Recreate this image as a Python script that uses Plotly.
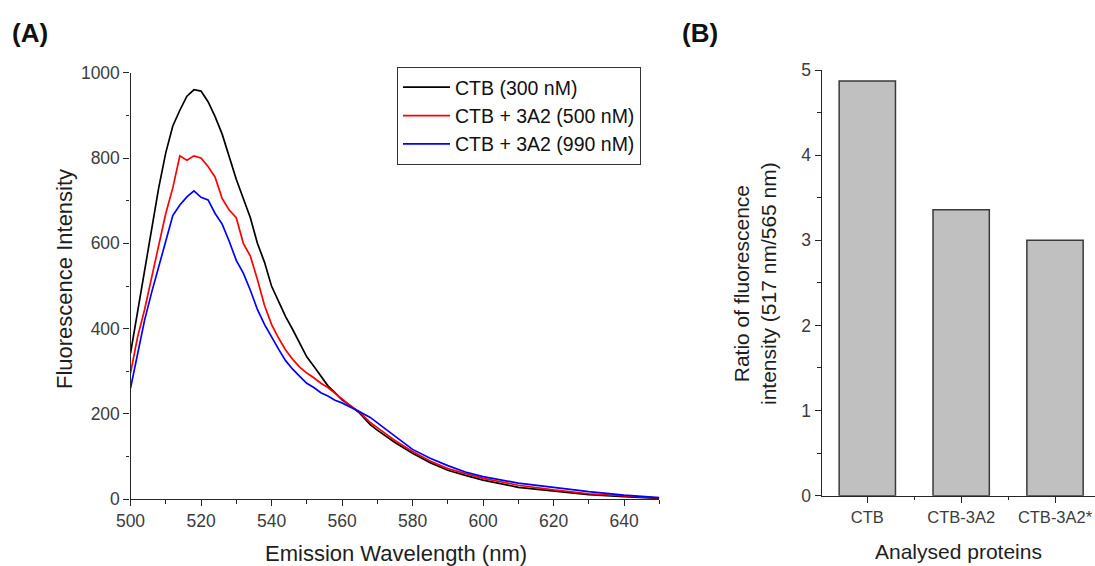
import plotly.graph_objects as go

# ---- (A) emission spectra -------------------------------------------------
wavelength = [500, 502, 504, 506, 508, 510, 512, 514, 516, 518, 520, 522, 524,
              526, 528, 530, 532, 534, 536, 538, 540, 542, 544, 546, 548, 550,
              552, 554, 556, 558, 560, 562, 565, 568, 570, 575, 580, 585, 590,
              595, 600, 610, 620, 630, 640, 650]

ctb_300 = [342, 440, 530, 630, 730, 812, 875, 912, 945, 960, 957, 932, 897,
           856, 800, 750, 705, 660, 600, 556, 500, 462, 428, 398, 364, 334,
           312, 290, 266, 250, 233, 222, 202, 175, 162, 133, 108, 86, 68,
           56, 45, 28, 19, 11, 6, 2]

ctb_3a2_500 = [295, 380, 445, 520, 590, 670, 730, 805, 795, 805, 800, 780, 755,
               705, 678, 660, 600, 570, 515, 455, 410, 378, 350, 328, 310, 296,
               285, 272, 262, 248, 235, 222, 204, 180, 168, 138, 112, 90, 72,
               60, 49, 33, 22, 13, 8, 3]

ctb_3a2_990 = [260, 340, 420, 485, 545, 610, 665, 690, 709, 723, 708, 702, 670,
               645, 605, 560, 530, 490, 445, 410, 380, 352, 325, 305, 288, 272,
               262, 250, 242, 232, 226, 218, 205, 192, 180, 148, 117, 96, 79,
               64, 53, 38, 28, 18, 10, 4]

spectra = [
    ("CTB (300 nM)", ctb_300, "#000000"),
    ("CTB + 3A2 (500 nM)", ctb_3a2_500, "#ff0000"),
    ("CTB + 3A2 (990 nM)", ctb_3a2_990, "#0000ff"),
]

# ---- (B) intensity ratio --------------------------------------------------
proteins = ["CTB", "CTB-3A2", "CTB-3A2*"]
ratio_517_565 = [4.87, 3.36, 3.0]

W, H = 1095, 566


def px_x(x):
    return x / W


def px_y(y):
    return 1 - y / H


FONT = "Liberation Sans, Arial, sans-serif"
AXIS_COL = "#262626"
TICK_COL = "#3c3c3c"

fig = go.Figure()

for name, values, color in spectra:
    fig.add_trace(go.Scatter(
        x=wavelength, y=values, name=name, mode="lines",
        line=dict(color=color, width=1.7, shape="linear"),
        xaxis="x", yaxis="y",
    ))

fig.add_trace(go.Bar(
    x=list(range(len(proteins))), y=ratio_517_565, width=0.6,
    marker=dict(color="#c0c0c0", line=dict(color="#3a3a3a", width=1.5)),
    showlegend=False, xaxis="x2", yaxis="y2",
))

minor_common = dict(ticks="outside", ticklen=3.5, tickcolor=AXIS_COL, tickwidth=1.2)

axis_common = dict(
    showline=True, linecolor=AXIS_COL, linewidth=1.3,
    ticks="outside", ticklen=6, tickwidth=1.2, tickcolor=AXIS_COL,
    showgrid=False, zeroline=False, automargin=False,
    tickfont=dict(family=FONT, size=17.5, color=TICK_COL),
)

fig.update_layout(
    width=W, height=H,
    margin=dict(l=0, r=0, t=0, b=0, pad=0),
    paper_bgcolor="white", plot_bgcolor="white",
    font=dict(family=FONT, color="#1e1e1e"),
    xaxis=dict(
        domain=[px_x(130.5), px_x(659.3)], range=[500, 650],
        tick0=500, dtick=20, anchor="y",
        minor=dict(dtick=10, **minor_common),
        **axis_common,
    ),
    yaxis=dict(
        domain=[px_y(499.3), px_y(72.7)], range=[0, 1000],
        tick0=0, dtick=200, anchor="x",
        minor=dict(dtick=100, **minor_common),
        **axis_common,
    ),
    xaxis2=dict(
        domain=[px_x(821.7), 1.0], range=[-0.486, 2.426],
        tickvals=list(range(len(proteins))), ticktext=proteins, anchor="y2",
        minor=dict(tick0=0.5, dtick=1, **minor_common),
        **{**axis_common, "tickfont": dict(family=FONT, size=16.5, color=TICK_COL)},
    ),
    yaxis2=dict(
        domain=[px_y(495.7), px_y(70)], range=[0, 5],
        tick0=0, dtick=1, anchor="x2",
        minor=dict(dtick=0.5, **minor_common),
        **axis_common,
    ),
    legend=dict(
        x=px_x(397), y=px_y(67), xanchor="left", yanchor="top",
        bgcolor="white", bordercolor="#333333", borderwidth=1,
        font=dict(family=FONT, size=19.5, color="#111111"),
        itemwidth=47, tracegroupgap=0,
        entrywidth=205, entrywidthmode="pixels",
    ),
    showlegend=True,
)

annotations = [
    dict(text="<b>(A)</b>", x=px_x(10), y=px_y(33), xanchor="left", yanchor="middle",
         font=dict(size=26, color="#111111")),
    dict(text="<b>(B)</b>", x=px_x(680), y=px_y(33), xanchor="left", yanchor="middle",
         font=dict(size=26, color="#111111")),
    dict(text="Fluorescence Intensity", x=px_x(64), y=px_y(279), textangle=-90,
         xanchor="center", yanchor="middle", font=dict(size=22)),
    dict(text="Emission Wavelength (nm)", x=px_x(395.5), y=px_y(553),
         xanchor="center", yanchor="middle", font=dict(size=22)),
    dict(text="Ratio of fluorescence<br>intensity (517 nm/565 nm)", x=px_x(755), y=px_y(284),
         textangle=-90, xanchor="center", yanchor="middle", font=dict(size=21)),
    dict(text="Analysed proteins", x=px_x(958.5), y=px_y(551),
         xanchor="center", yanchor="middle", font=dict(size=21)),
]
for a in annotations:
    a.update(xref="paper", yref="paper", showarrow=False)
    a["font"].setdefault("family", FONT)
    a["font"].setdefault("color", "#1e1e1e")
fig.update_layout(annotations=annotations)

fig.write_html("out.html")
